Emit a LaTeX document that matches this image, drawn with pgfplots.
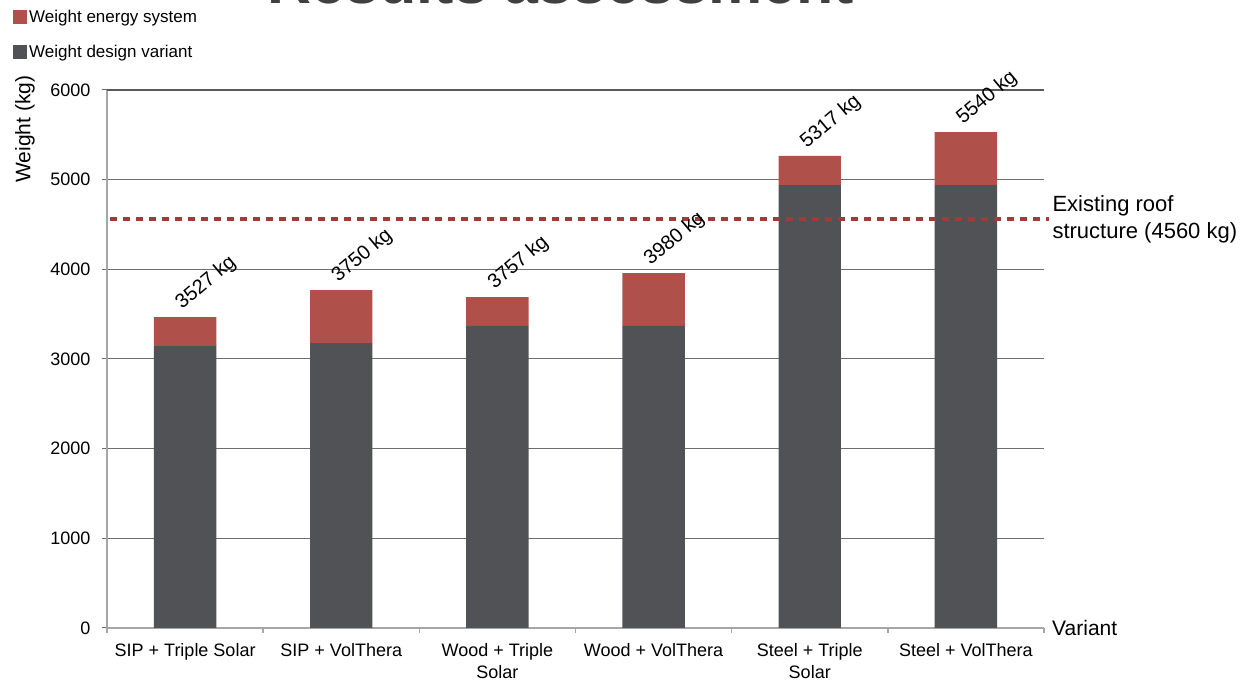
\documentclass[border=0pt]{standalone}
\usepackage{pgfplots}
\pgfplotsset{compat=1.18}
\usepackage{fontspec}
\setmainfont{Liberation Sans}
\definecolor{barred}{HTML}{B0504A}
\definecolor{bardark}{HTML}{515256}
\definecolor{refred}{HTML}{A33A35}
\definecolor{gridc}{HTML}{6E6E6E}
\definecolor{topc}{HTML}{595959}
\definecolor{axisc}{HTML}{A6A6A6}
\definecolor{titlec}{HTML}{404040}
\tikzset{lbl/.style={xshift=-3pt, yshift=7pt, anchor=base west, rotate=40, inner sep=0pt, font=\fontsize{20}{24}\selectfont}}
\begin{document}
\begin{tikzpicture}
\path[use as bounding box, clip] (0pt,0pt) rectangle (1243pt,684pt);
\begin{axis}[
  at={(107pt,56pt)}, anchor=south west,
  scale only axis, width=937pt, height=538pt,
  ybar stacked, bar width=0.4,
  xmin=-0.5, xmax=5.5, ymin=0, ymax=6000,
  axis x line*=bottom, axis y line*=left,
  axis line style={axisc, line width=2pt},
  xtick={0,...,5},
  xticklabels={SIP + Triple Solar, SIP + VolThera, {Wood + Triple\\Solar}, Wood + VolThera, {Steel + Triple\\Solar}, Steel + VolThera},
  x tick label style={align=center, font=\fontsize{18}{22}\selectfont, yshift=-7pt},
  major x tick style={draw=none},
  minor xtick={-0.5,0.5,...,5.5},
  minor x tick style={axisc, line width=1.5pt},
  tick align=outside,
  major tick length=5pt, minor tick length=5pt,
  ytick={0,1000,...,6000},
  y tick style={gridc, line width=1pt},
  y tick label style={font=\fontsize{18}{22}\selectfont, xshift=-8pt},
  /pgf/number format/assume math mode=true,
  /pgf/number format/1000 sep={},
  ymajorgrids, grid style={gridc, line width=1pt},
  extra y ticks={6000}, extra y tick labels={},
  extra y tick style={grid style={topc, line width=2pt}, major tick length=0pt},
  ylabel={Weight (kg)},
  ylabel style={at={(axis description cs:-0.0875,0.9275)}, anchor=center, font=\fontsize{21}{25}\selectfont},
  xlabel={Variant},
  xlabel style={at={(axis description cs:1.005,0)}, anchor=west, font=\fontsize{21}{25}\selectfont},
  legend style={at={(axis description cs:-0.1003,1.1524)}, anchor=north west, draw=none, fill=none,
     font=\fontsize{17}{20}\selectfont, row sep=17pt, inner sep=0pt,
     /tikz/every even column/.append style={column sep=3pt}},
  legend cell align=left,
  reverse legend,
]
\addplot+[fill=bardark, draw=none,
  legend image code/.code={\fill[bardark] (0pt,-7pt) rectangle (14pt,7pt);}]
  coordinates {(0,3145) (1,3178) (2,3368) (3,3368) (4,4940) (5,4940)};
\addlegendentry{Weight design variant}
\addplot+[fill=barred, draw=none,
  legend image code/.code={\fill[barred] (0pt,-7pt) rectangle (14pt,7pt);}]
  coordinates {(0,323) (1,591) (2,323) (3,591) (4,324) (5,591)};
\addlegendentry{Weight energy system}
\end{axis}
\begin{axis}[
  at={(107pt,56pt)}, anchor=south west,
  scale only axis, width=937pt, height=538pt,
  xmin=-0.5, xmax=5.5, ymin=0, ymax=6000,
  hide axis, clip=false,
]
\addplot[refred, line width=4.5pt, dash pattern=on 7pt off 6pt] coordinates {(-0.48,4560) (5.53,4560)};
\node[anchor=west, align=left, font=\fontsize{22}{27}\selectfont, xshift=5pt] at (axis cs:5.5,4560) {Existing roof\\structure (4560 kg)};
\node[lbl] at (axis cs:0,3468) {3527 kg};
\node[lbl] at (axis cs:1,3769) {3750 kg};
\node[lbl] at (axis cs:2,3691) {3757 kg};
\node[lbl] at (axis cs:3,3959) {3980 kg};
\node[lbl] at (axis cs:4,5264) {5317 kg};
\node[lbl] at (axis cs:5,5531) {5540 kg};
\end{axis}
\node[anchor=base, font=\fontsize{61}{70}\selectfont\bfseries, text=titlec, inner sep=0pt] at (561pt,680pt) {Results assessment};
\end{tikzpicture}
\end{document}
